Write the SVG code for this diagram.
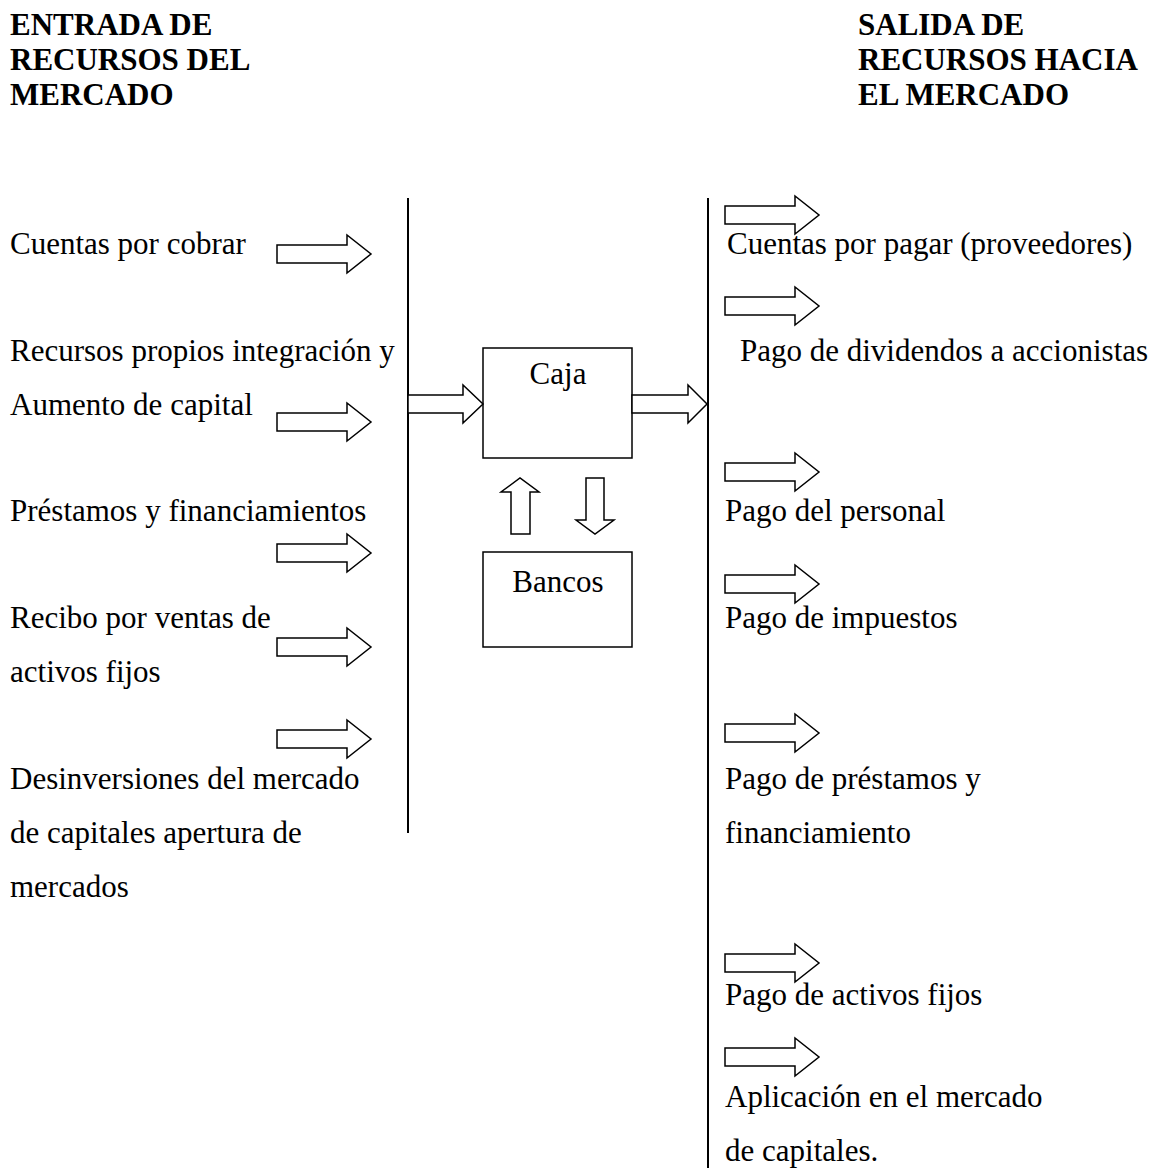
<svg xmlns="http://www.w3.org/2000/svg" width="1158" height="1168" viewBox="0 0 1158 1168">
<style>
text{font-family:"Liberation Serif","Times New Roman",serif;font-size:31px;fill:#000}
.h{font-weight:bold}
.c{text-anchor:middle}
.ln{stroke:#000;stroke-width:2;fill:none}
.box{fill:#fff;stroke:#000;stroke-width:1.5}
.ar{fill:#fff;stroke:#000;stroke-width:1.5;stroke-linejoin:miter}
</style>
<defs>
<path id="ra" d="M0,-9 H70 V-19 L94,0 L70,19 V9 H0 Z"/>
</defs>
<rect width="1158" height="1168" fill="#fff"/>
<g id="headers">
<text class="h" x="10" y="35">ENTRADA DE</text>
<text class="h" x="10" y="70">RECURSOS DEL</text>
<text class="h" x="10" y="105">MERCADO</text>
<text class="h" x="858" y="35">SALIDA DE</text>
<text class="h" x="858" y="70">RECURSOS HACIA</text>
<text class="h" x="858" y="105">EL MERCADO</text>
</g>
<g id="entradas">
<text x="10" y="254">Cuentas por cobrar</text>
<text x="10" y="361">Recursos propios integración y</text>
<text x="10" y="415">Aumento de capital</text>
<text x="10" y="521">Préstamos y financiamientos</text>
<text x="10" y="628">Recibo por ventas de</text>
<text x="10" y="682">activos fijos</text>
<text x="10" y="789">Desinversiones del mercado</text>
<text x="10" y="843">de capitales apertura de</text>
<text x="10" y="897">mercados</text>
</g>
<g id="salidas">
<text x="727" y="254">Cuentas por pagar (proveedores)</text>
<text x="740" y="361">Pago de dividendos a accionistas</text>
<text x="725" y="521">Pago del personal</text>
<text x="725" y="628">Pago de impuestos</text>
<text x="725" y="789">Pago de préstamos y</text>
<text x="725" y="843">financiamiento</text>
<text x="725" y="1005">Pago de activos fijos</text>
<text x="725" y="1107">Aplicación en el mercado</text>
<text x="725" y="1161">de capitales.</text>
</g>
<g id="caja">
<rect class="box" x="483" y="348" width="149" height="110"/>
<text class="c" x="558" y="384">Caja</text>
</g>
<g id="bancos">
<rect class="box" x="483" y="552" width="149" height="95"/>
<text class="c" x="558" y="592">Bancos</text>
</g>
<g id="connectors">
<line class="ln" x1="408" y1="198" x2="408" y2="833"/>
<line class="ln" x1="708" y1="198" x2="708" y2="1168"/>
<use href="#ra" class="ar" x="277" y="254"/>
<use href="#ra" class="ar" x="277" y="422"/>
<use href="#ra" class="ar" x="277" y="553"/>
<use href="#ra" class="ar" x="277" y="647"/>
<use href="#ra" class="ar" x="277" y="739"/>
<path class="ar" d="M408,395 H463 V385 L483,404 L463,423 V413 H408 Z"/>
<path class="ar" d="M632,395 H688 V385 L707,404 L688,423 V413 H632 Z"/>
<path class="ar" d="M511,534 V492 H501 L520,478 L539,492 H530 V534 Z"/>
<path class="ar" d="M586,478 V520 H576 L595,534 L614,520 H604 V478 Z"/>
<use href="#ra" class="ar" x="725" y="215"/>
<use href="#ra" class="ar" x="725" y="306"/>
<use href="#ra" class="ar" x="725" y="472"/>
<use href="#ra" class="ar" x="725" y="584"/>
<use href="#ra" class="ar" x="725" y="733"/>
<use href="#ra" class="ar" x="725" y="963"/>
<use href="#ra" class="ar" x="725" y="1057"/>
</g>
</svg>
